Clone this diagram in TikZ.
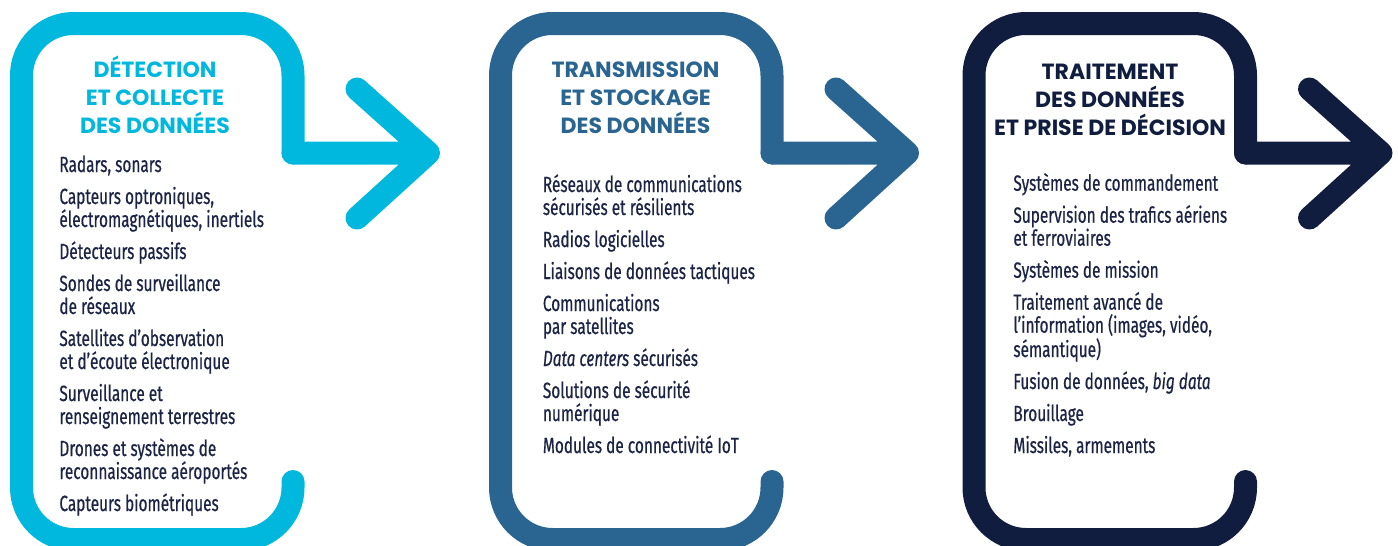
\documentclass[tikz,border=0pt]{standalone}
\usepackage{fontspec}
\setmainfont[FakeStretch=0.70, FakeBold=0.6]{Fira Sans}
\newfontfamily\headfont{Poppins}
\usepackage{tikz}
\usetikzlibrary{positioning,arrows.meta}

\definecolor{detcyan}{HTML}{00B8DE}
\definecolor{transblue}{HTML}{2A6592}
\definecolor{traitnavy}{HTML}{101D3E}
\definecolor{itemtext}{HTML}{1B2445}

\tikzset{
  frame/.style={line width=23pt, line cap=round, line join=round, rounded corners=52pt},
  chevron/.style={line width=23pt, line cap=round, line join=round},
  heading/.style={align=center, anchor=base, inner sep=0pt, font=\headfont\bfseries\fontsize{22}{28}\selectfont},
  itemlist/.style={align=left, anchor=base west, inner sep=0pt, text=itemtext, font=\fontsize{22}{23}\selectfont}
}

\begin{document}
\begin{tikzpicture}[x=1pt, y=-1pt, >=latex, thick]
    \useasboundingbox (0,0) rectangle (1398,546);
    \clip (0,0) rectangle (1398,546);

    % detection
    \draw [frame, detcyan] (293,481.5) -- (293,539.5) -- (21.5,539.5) -- (21.5,23.5) -- (293,23.5) -- (293,153);
    \draw [chevron, detcyan] (293,153) -- (428.5,153) (357,89) -- (428.5,153) -- (357,218);
    \node [heading, text=detcyan] (dettitle) at (155,133.5) {DÉTECTION\\ET COLLECTE\\DES DONNÉES};
    \node [itemlist] (detlist) at (59,511) {Radars, sonars\\[9pt]
      Capteurs optroniques,\\électromagnétiques, inertiels\\[9pt]
      Détecteurs passifs\\[9pt]
      Sondes de surveillance\\de réseaux\\[9pt]
      Satellites d’observation\\et d’écoute électronique\\[9pt]
      Surveillance et\\renseignement terrestres\\[9pt]
      Drones et systèmes de\\reconnaissance aéroportés\\[9pt]
      Capteurs biométriques};

    % transmission
    \begin{scope}[xshift=479pt]
    \draw [frame, transblue] (293,481.5) -- (293,539.5) -- (21.5,539.5) -- (21.5,23.5) -- (293,23.5) -- (293,153);
    \draw [chevron, transblue] (293,153) -- (428.5,153) (357,89) -- (428.5,153) -- (357,218);
    \end{scope}
    \node [heading, text=transblue] (transtitle) at (635.5,133.5) {TRANSMISSION\\ET STOCKAGE\\DES DONNÉES};
    \node [itemlist] (translist) at (542.5,453) {Réseaux de communications\\sécurisés et résilients\\[9pt]
      Radios logicielles\\[9pt]
      Liaisons de données tactiques\\[9pt]
      Communications\\par satellites\\[9pt]
      \textit{Data centers} sécurisés\\[9pt]
      Solutions de sécurité\\numérique\\[9pt]
      Modules de connectivité IoT};

    % traitement
    \begin{scope}[xshift=952.5pt]
    \draw [frame, traitnavy] (293,481.5) -- (293,539.5) -- (21.5,539.5) -- (21.5,23.5) -- (293,23.5) -- (293,153);
    \draw [chevron, traitnavy] (293,153) -- (428.5,153) (357,89) -- (428.5,153) -- (357,218);
    \end{scope}
    \node [heading, text=traitnavy] (traittitle) at (1110,135.5) {TRAITEMENT\\DES DONNÉES\\ET PRISE DE DÉCISION};
    \node [itemlist] (traitlist) at (1013,453) {Systèmes de commandement\\[9pt]
      Supervision des trafics aériens\\et ferroviaires\\[9pt]
      Systèmes de mission\\[9pt]
      Traitement avancé de\\l’information (images, vidéo,\\sémantique)\\[9pt]
      Fusion de données, \textit{big data}\\[9pt]
      Brouillage\\[9pt]
      Missiles, armements};
\end{tikzpicture}
\end{document}
